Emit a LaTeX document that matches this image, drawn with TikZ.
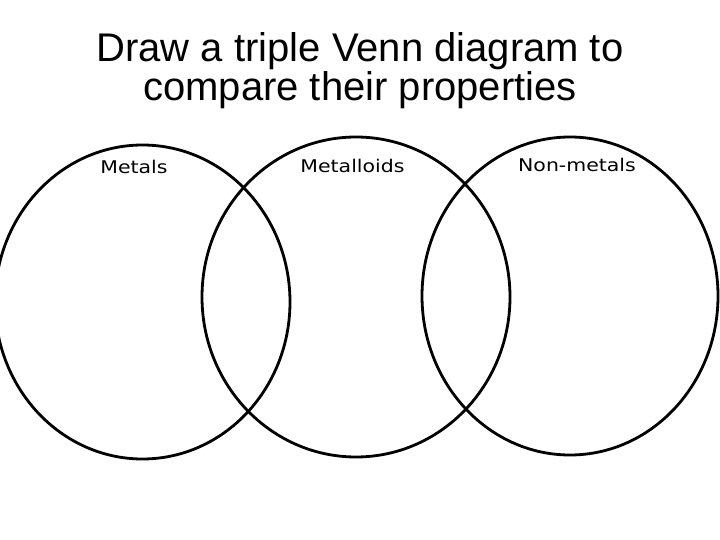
\documentclass[tikz,border=0pt]{standalone}
\usepackage{fontspec}
\setmainfont{Liberation Sans}
\newfontfamily\labelfont[FakeStretch=1.17]{DejaVu Sans}
\begin{document}
\begin{tikzpicture}[x=1pt,y=-1pt,
    set/.style={draw, line width=2.8pt},
    setname/.style={font=\labelfont\fontsize{17.5}{20}\selectfont, anchor=base, inner sep=0pt},
    title/.style={font=\fontsize{40}{37}\selectfont, anchor=base, inner sep=0pt}]
  \useasboundingbox (0,0) rectangle (720,540);
  \node (line1) [title] at (360,62) {Draw a triple Venn diagram to};
  \node (line2) [title] at (360,101) {compare their properties};
  % the three sets
  \draw[set] (142.5,302) ellipse [x radius=147.5, y radius=157];
  \draw[set] (356,297) ellipse [x radius=154, y radius=160];
  \draw[set] (570,296) ellipse [x radius=148, y radius=159];
  \node (metals) [setname] at (134,173.5) {Metals};
  \node (metalloids) [setname] at (352.5,173) {Metalloids};
  \node (nonmetals) [setname] at (577,172) {Non-metals};
\end{tikzpicture}
\end{document}
